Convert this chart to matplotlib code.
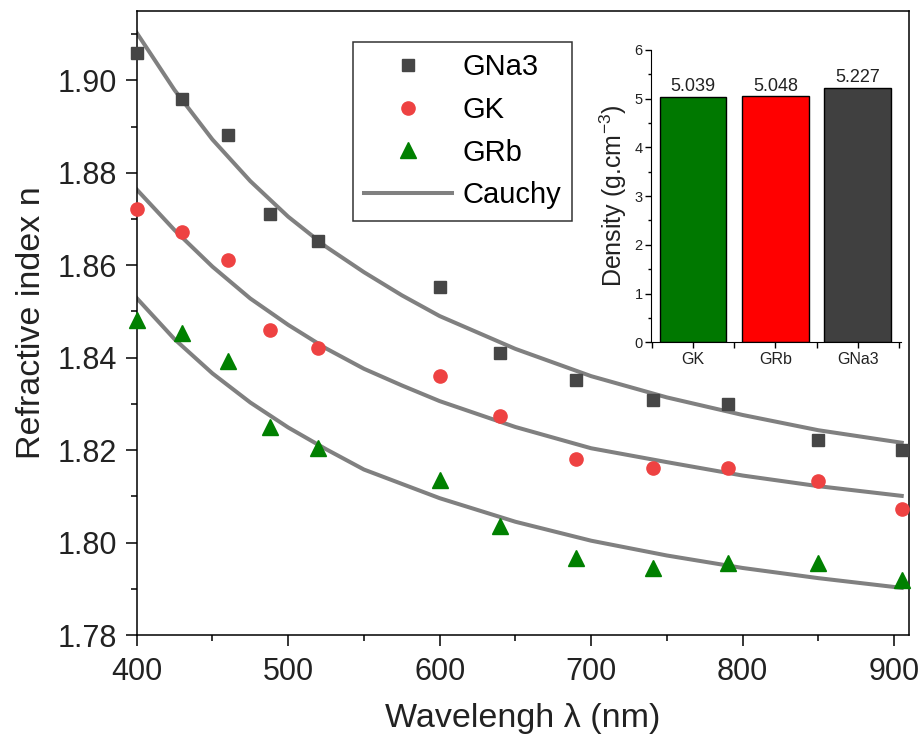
import numpy as np
import matplotlib
matplotlib.use("Agg")
import matplotlib.pyplot as plt
from matplotlib.ticker import MultipleLocator, FixedLocator

plt.rcParams["font.family"] = ["Liberation Sans", "DejaVu Sans"]
plt.rcParams["mathtext.fontset"] = "custom"
plt.rcParams["mathtext.rm"] = "Liberation Sans"
plt.rcParams["mathtext.it"] = "Liberation Sans:italic"

# measured refractive index
wl = [400, 430, 460, 488, 520, 600, 640, 690, 741, 790, 850, 905]
n_gna3 = [1.906, 1.8959, 1.8881, 1.8711, 1.8652, 1.8552, 1.8410, 1.8352, 1.8309, 1.8300, 1.8222, 1.8201]
n_gk = [1.8721, 1.8672, 1.8611, 1.8459, 1.8421, 1.8361, 1.8274, 1.8181, 1.8161, 1.8162, 1.8134, 1.8072]
n_grb = [1.8482, 1.8453, 1.8392, 1.8251, 1.8204, 1.8136, 1.8035, 1.7966, 1.7944, 1.7955, 1.7955, 1.7919]

# Cauchy fit curves
wl_fit = [400, 425, 450, 475, 500, 525, 550, 575, 600, 650, 700, 750, 800, 850, 905]
fit_gna3 = [1.9103, 1.8979, 1.8872, 1.8782, 1.8705, 1.8640, 1.8585, 1.8535, 1.8490,
            1.8419, 1.8360, 1.8314, 1.8276, 1.8243, 1.8216]
fit_gk = [1.8764, 1.8676, 1.8597, 1.8528, 1.8471, 1.8420, 1.8376, 1.8340, 1.8306,
          1.8250, 1.8204, 1.8174, 1.8145, 1.8122, 1.8101]
fit_grb = [1.8529, 1.8440, 1.8366, 1.8303, 1.8249, 1.8202, 1.8158, 1.8127, 1.8096,
           1.8045, 1.8004, 1.7972, 1.7945, 1.7923, 1.7902]

# density inset
glasses = ["GK", "GRb", "GNa3"]
density = [5.039, 5.048, 5.227]
bar_colors = ["#007800", "#ff0000", "#404040"]

txt = "#222222"
fig = plt.figure(figsize=(9.21, 7.49), dpi=100)
ax = fig.add_axes([0.1484, 0.1522, 0.8389, 0.8331])

ax.plot(wl_fit, fit_gna3, color="#808080", lw=2.9, zorder=2)
ax.plot(wl_fit, fit_gk, color="#808080", lw=2.9, zorder=2)
ax.plot(wl_fit, fit_grb, color="#808080", lw=2.9, zorder=2)
h1, = ax.plot(wl, n_gna3, "s", color="#464646", ms=9, ls="none", label="GNa3", zorder=3, clip_on=False)
h2, = ax.plot(wl, n_gk, "o", color="#ee4242", ms=9.5, ls="none", label="GK", zorder=3, clip_on=False)
h3, = ax.plot(wl, n_grb, "^", color="#008000", ms=11, ls="none", label="GRb", zorder=3, clip_on=False)
h4, = ax.plot([], [], color="#808080", lw=2.9, label="Cauchy")

ax.set_xlim(400, 910)
ax.set_ylim(1.78, 1.915)
ax.xaxis.set_major_locator(MultipleLocator(100))
ax.xaxis.set_minor_locator(MultipleLocator(50))
ax.yaxis.set_major_locator(MultipleLocator(0.02))
ax.yaxis.set_minor_locator(MultipleLocator(0.01))
ax.yaxis.set_major_formatter(plt.FormatStrFormatter("%.2f"))
ax.tick_params(which="major", length=8, width=1.1, labelsize=22, labelcolor=txt)
ax.tick_params(which="minor", length=4, width=1.1)
ax.tick_params(axis="x", pad=8)
ax.tick_params(axis="y", pad=6)
for s in ax.spines.values():
    s.set_linewidth(1.1)
ax.set_xlabel("Wavelengh λ (nm)", fontsize=24.5, color=txt, labelpad=11)
ax.set_ylabel("Refractive index n", fontsize=24.5, color=txt, labelpad=8)

leg = ax.legend(handles=[h1, h2, h3, h4], loc="upper left", bbox_to_anchor=(0.2796, 0.9508),
                borderaxespad=0, fontsize=21, frameon=True, fancybox=False, shadow=False,
                handlelength=3.0, handletextpad=0.35, labelspacing=0.5, borderpad=0.4)
leg.get_frame().set_edgecolor("black")
leg.get_frame().set_linewidth(1.1)

# inset bar chart
ins = fig.add_axes([0.7068, 0.543, 0.2711, 0.3903])
x = np.arange(len(glasses))
bars = ins.bar(x, density, width=0.81, color=bar_colors, edgecolor="black", linewidth=1.0)
for b, v in zip(bars, density):
    ins.text(b.get_x() + b.get_width() / 2, v + 0.03, f"{v:.3f}", ha="center", va="bottom",
             fontsize=13, color=txt)
ins.set_xlim(-0.51, 2.52)
ins.set_ylim(0, 6)
ins.set_xticks(x)
ins.set_xticklabels(glasses)
ins.xaxis.set_minor_locator(FixedLocator([-0.5, 0.5, 1.5, 2.5]))
ins.yaxis.set_major_locator(MultipleLocator(1))
ins.yaxis.set_minor_locator(MultipleLocator(0.5))
ins.spines["top"].set_visible(False)
ins.spines["right"].set_visible(False)
ins.tick_params(axis="y", which="major", length=4, width=1, labelsize=10.5, labelcolor=txt, pad=2)
ins.tick_params(axis="y", which="minor", length=2, width=1)
ins.tick_params(axis="x", which="both", length=4, width=1, labelsize=11.5, labelcolor=txt, pad=3)
ins.set_ylabel("Density (g.cm$^{-3}$)", fontsize=18, color=txt, labelpad=4)

fig.savefig("out.png", dpi=100)
